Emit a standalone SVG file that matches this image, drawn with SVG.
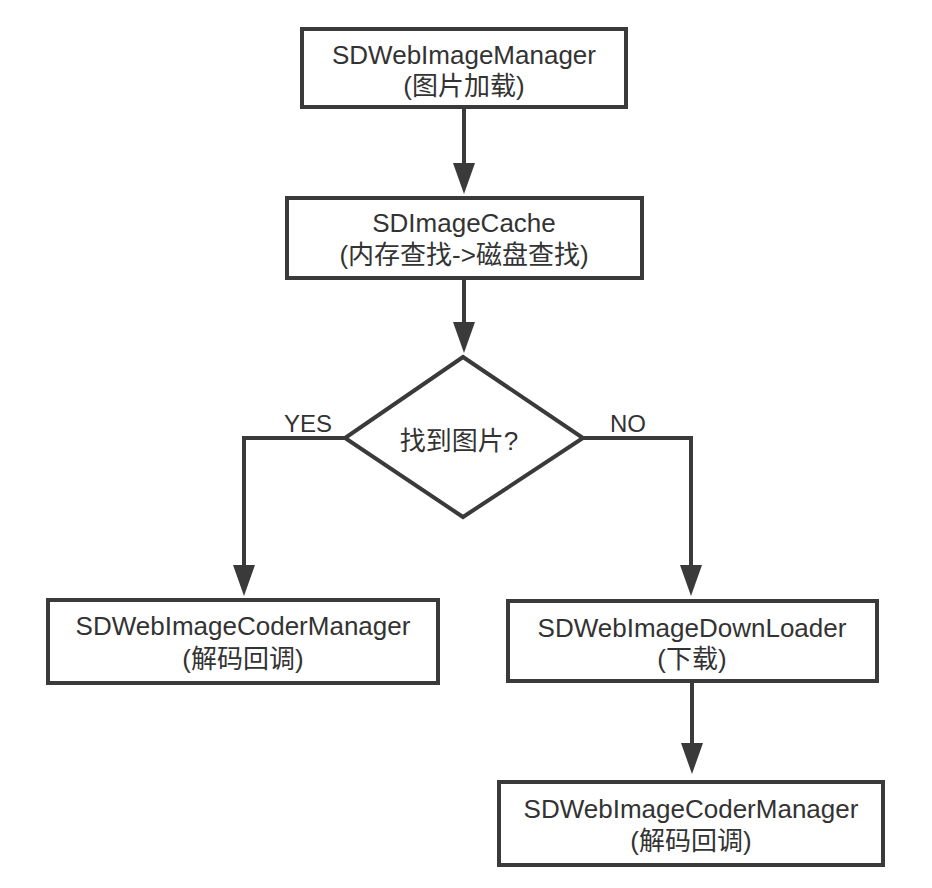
<svg xmlns="http://www.w3.org/2000/svg" width="932" height="888" viewBox="0 0 932 888">
<defs>
<style>
.box{fill:#fff;stroke:#3a3a3a;stroke-width:4}
.edge{fill:none;stroke:#3a3a3a;stroke-width:4}
.head{fill:#3a3a3a}
.t{font-family:"Liberation Sans","Noto Sans CJK SC",sans-serif;font-size:26px;fill:#333;text-anchor:middle}
.lbl{font-family:"Liberation Sans",sans-serif;font-size:24px;fill:#333;text-anchor:middle}
</style>
</defs>
<rect width="932" height="888" fill="#fff"/>
<g id="connectors">
<path class="edge" d="M464,108 V165"/>
<path class="edge" d="M464,278 V324"/>
<path class="edge" d="M345,438 H244 V567"/>
<path class="edge" d="M583,438 H691 V567"/>
<path class="edge" d="M692,681 V745"/>
<polygon class="head" points="453,163 475,163 464,194"/>
<polygon class="head" points="453,322 475,322 464,353"/>
<polygon class="head" points="233,565 255,565 244,596"/>
<polygon class="head" points="680,565 702,565 691,596"/>
<polygon class="head" points="681,743 703,743 692,774"/>
<text class="lbl" x="308" y="432">YES</text>
<text class="lbl" x="628" y="432">NO</text>
</g>
<g id="n1">
<rect class="box" x="302" y="29" width="324" height="78"/>
<text class="t" x="464" y="64">SDWebImageManager</text>
<text class="t" x="464" y="95">(图片加载)</text>
</g>
<g id="n2">
<rect class="box" x="287" y="198" width="355" height="80"/>
<text class="t" x="464" y="232">SDImageCache</text>
<text class="t" x="464" y="264">(内存查找-&gt;磁盘查找)</text>
</g>
<g id="n3">
<polygon class="box" points="463,357 583,438 463,517 345,438"/>
<text class="t" x="459" y="450">找到图片?</text>
</g>
<g id="n4">
<rect class="box" x="48" y="600" width="390" height="83"/>
<text class="t" x="243" y="635">SDWebImageCoderManager</text>
<text class="t" x="243" y="668">(解码回调)</text>
</g>
<g id="n5">
<rect class="box" x="508" y="601" width="369" height="80"/>
<text class="t" x="692" y="637">SDWebImageDownLoader</text>
<text class="t" x="692" y="668">(下载)</text>
</g>
<g id="n6">
<rect class="box" x="499" y="782" width="384" height="83"/>
<text class="t" x="691" y="818">SDWebImageCoderManager</text>
<text class="t" x="691" y="850">(解码回调)</text>
</g>
</svg>
